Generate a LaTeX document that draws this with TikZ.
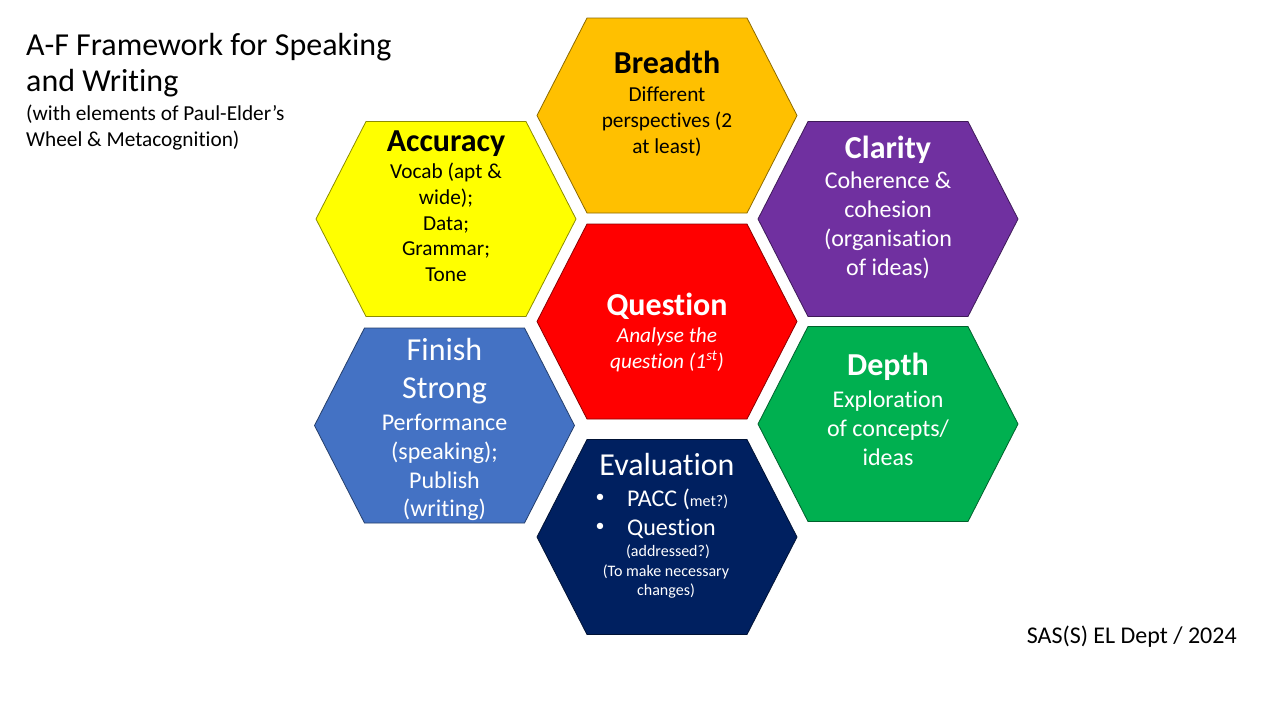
\documentclass[tikz,border=0pt]{standalone}
\usepackage{fontspec}
\setmainfont{Carlito}[Ligatures={NoCommon,TeX}]
\definecolor{cBreadth}{HTML}{FFC000}
\definecolor{cAccuracy}{HTML}{FFFF00}
\definecolor{cClarity}{HTML}{7030A0}
\definecolor{cQuestion}{HTML}{FF0000}
\definecolor{cFinish}{HTML}{4472C4}
\definecolor{cDepth}{HTML}{00B050}
\definecolor{cEval}{HTML}{002060}
\tikzset{
  hexa/.style={line width=0.8pt},
  ttl/.style={inner sep=0, anchor=base west, font=\fontsize{32}{38}\selectfont},
  sub/.style={inner sep=0, anchor=base west, font=\fontsize{21.3}{26}\selectfont},
  head/.style={inner sep=0, anchor=base, font=\fontsize{32}{38}\selectfont\bfseries},
  headreg/.style={inner sep=0, anchor=base, font=\fontsize{32}{38}\selectfont},
  bodyS/.style={inner sep=0, anchor=base, font=\fontsize{21.3}{26}\selectfont},
  bodyL/.style={inner sep=0, anchor=base, font=\fontsize{24}{29}\selectfont},
  tinytxt/.style={inner sep=0, anchor=base, font=\fontsize{16}{19}\selectfont},
  bullet/.style={inner sep=0, anchor=center, font=\fontsize{18}{20}\selectfont},
}
\newcommand{\hexpath}[2]{%
  \draw[hexa, fill=#2, draw=#2!55!black, shift={#1}]
    (-130,0) -- (-80,-97.5) -- (80,-97.5) -- (130,0) -- (80,97.5) -- (-80,97.5) -- cycle;}
\begin{document}
\begin{tikzpicture}[x=1pt,y=-1pt]
\useasboundingbox[fill=white] (0,0) rectangle (1280,720);

% hexagons
\hexpath{(667,115.5)}{cBreadth}
\hexpath{(446,219)}{cAccuracy}
\hexpath{(888,219)}{cClarity}
\hexpath{(667,321.5)}{cQuestion}
\hexpath{(444.5,425.5)}{cFinish}
\hexpath{(888,424)}{cDepth}
\hexpath{(667,537)}{cEval}
\coordinate (hB) at (667,115.5);
\coordinate (hA) at (446,219);
\coordinate (hC) at (888,219);
\coordinate (hQ) at (667,321.5);
\coordinate (hF) at (444.5,425.5);
\coordinate (hD) at (888,424);
\coordinate (hE) at (667,537);

% title
\node[ttl] (t1) at (26,55) {A-F Framework for Speaking};
\node[ttl] (t2) at (26,91.5) {and Writing};
\node[sub] (t3) at (26,120) {(with elements of Paul-Elder’s};
\node[sub] (t4) at (26,146) {Wheel \& Metacognition)};

% Breadth
\node[head] (b0) at (667,73) {Breadth};
\node[bodyS] (b1) at (667,101.5) {Different};
\node[bodyS] (b2) at (667,127.5) {perspectives (2};
\node[bodyS] (b3) at (667,153.5) {at least)};

% Accuracy
\node[head] (a0) at (446,151) {Accuracy};
\node[bodyS] (a1) at (446,178.5) {Vocab (apt \&};
\node[bodyS] (a2) at (446,204.5) {wide);};
\node[bodyS] (a3) at (446,230.5) {Data;};
\node[bodyS] (a4) at (446,255.5) {Grammar;};
\node[bodyS] (a5) at (446,281) {Tone};

% Clarity
\node[head, text=white] (c0) at (888,158) {Clarity};
\node[bodyL, text=white] (c1) at (888,188.5) {Coherence \&};
\node[bodyL, text=white] (c2) at (888,217.5) {cohesion};
\node[bodyL, text=white] (c3) at (888,246.5) {(organisation};
\node[bodyL, text=white] (c4) at (888,275) {of ideas)};

% Question
\node[head, text=white] (q0) at (667,315) {Question};
\node[bodyS, text=white, font=\fontsize{21.3}{26}\selectfont\itshape] (q1) at (667,342.5) {Analyse the};
\node[bodyS, text=white, font=\fontsize{21.3}{26}\selectfont\itshape] (q2) at (667,368.5) {question (1\textsuperscript{st})};

% Finish Strong
\node[headreg, text=white] (f0) at (444.5,360) {Finish};
\node[headreg, text=white] (f1) at (444.5,398) {Strong};
\node[bodyL, text=white] (f2) at (444.5,430) {Performance};
\node[bodyL, text=white] (f3) at (444.5,459) {(speaking);};
\node[bodyL, text=white] (f4) at (444.5,488) {Publish};
\node[bodyL, text=white] (f5) at (444.5,516.5) {(writing)};

% Depth
\node[head, text=white] (d0) at (888,375) {Depth};
\node[bodyL, text=white] (d1) at (888,407) {Exploration};
\node[bodyL, text=white] (d2) at (888,436) {of concepts/};
\node[bodyL, text=white] (d3) at (888,465) {ideas};

% Evaluation
\node[headreg, text=white] (e0) at (667,475) {Evaluation};
\node[bullet, text=white] (e1b) at (600,498.5) {•};
\node[bodyL, text=white, anchor=base west] (e1) at (627,506.5) {PACC (\fontsize{16}{19}\selectfont met?)};
\node[bullet, text=white] (e2b) at (600,527) {•};
\node[bodyL, text=white, anchor=base west] (e2) at (627,535) {Question};
\node[tinytxt, text=white] (e3) at (668,556.5) {(addressed?)};
\node[tinytxt, text=white] (e4) at (666,576.5) {(To make necessary};
\node[tinytxt, text=white] (e5) at (666,595) {changes)};

% footer
\node[inner sep=0, anchor=base east, font=\fontsize{24}{29}\selectfont] (ft) at (1237,643) {SAS(S) EL Dept / 2024};
\end{tikzpicture}
\end{document}
